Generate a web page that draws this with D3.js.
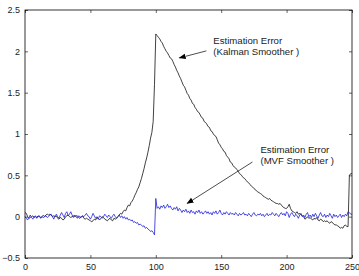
<!DOCTYPE html>
<meta charset="utf-8">
<head>
  <title>Estimation error</title>
</head>
<style>
body { margin: 0; background: #fff; }
svg { display: block; font-family: Arial, "Liberation Sans", Helvetica, sans-serif; }
</style>
<body>
<div id="content"></div>
<script src="https://cdnjs.cloudflare.com/ajax/libs/d3/7.8.5/d3.min.js"></script>
<script>

// data, one value per sample 0..250
var kalman = [
  0.05, 0.04, 0.0, -0.02, -0.01, 0.0, 0.01, -0.01, 0.0, -0.01,
  0.01, 0.0, -0.01, 0.0, -0.01, 0.0, 0.02, 0.03, 0.02, 0.03,
  0.02, 0.0, 0.01, 0.0, 0.01, -0.02, -0.03, -0.01, -0.02, -0.04,
  -0.03, 0.0, 0.01, 0.02, 0.0, -0.01, 0.0, 0.01, 0.0, 0.01,
  0.01, -0.01, -0.02, 0.0, 0.01, -0.02, -0.03, -0.02, -0.03, -0.04,
  -0.05, -0.06, -0.05, -0.03, -0.04, -0.01, -0.02, -0.04, -0.02, 0.0,
  -0.01, -0.03, -0.04, -0.05, -0.03, -0.02, -0.04, -0.05, -0.02, -0.03,
  -0.02, 0.0, 0.02, 0.04, 0.03, 0.06, 0.08, 0.07, 0.11, 0.14,
  0.13, 0.17, 0.19, 0.22, 0.26, 0.29, 0.33, 0.36, 0.41, 0.46,
  0.52, 0.58, 0.65, 0.71, 0.78, 0.86, 0.95, 1.02, 1.15, 1.6,
  2.21, 2.19, 2.17, 2.15, 2.12, 2.1, 2.06, 2.03, 2.0, 1.98,
  1.95, 1.92, 1.91, 1.88, 1.84, 1.81, 1.77, 1.74, 1.7, 1.67,
  1.63, 1.59, 1.57, 1.53, 1.49, 1.47, 1.43, 1.41, 1.37, 1.36,
  1.32, 1.3, 1.27, 1.26, 1.23, 1.2, 1.19, 1.15, 1.14, 1.12,
  1.09, 1.08, 1.04, 1.03, 1.0, 0.98, 0.97, 0.93, 0.89, 0.87,
  0.84, 0.82, 0.79, 0.78, 0.74, 0.72, 0.7, 0.66, 0.65, 0.62,
  0.6, 0.59, 0.57, 0.55, 0.52, 0.51, 0.49, 0.47, 0.46, 0.44,
  0.42, 0.41, 0.39, 0.37, 0.36, 0.34, 0.33, 0.31, 0.3, 0.29,
  0.28, 0.27, 0.25, 0.24, 0.23, 0.22, 0.21, 0.22, 0.2, 0.19,
  0.18, 0.17, 0.16, 0.16, 0.15, 0.16, 0.14, 0.12, 0.11, 0.1,
  0.1, 0.12, 0.15, 0.1, 0.07, 0.06, 0.05, 0.04, 0.06, 0.03,
  0.04, 0.02, 0.01, 0.0, -0.03, -0.02, 0.0, -0.02, -0.01, -0.03,
  -0.04, -0.02, -0.03, -0.01, -0.04, -0.05, -0.03, -0.04, -0.06, -0.05,
  -0.06, -0.05, -0.07, -0.08, -0.06, -0.07, -0.09, -0.1, -0.1, -0.11,
  -0.12, -0.14, -0.13, -0.14, -0.11, -0.1, -0.12, -0.12, 0.5, 0.52,
  0.52
];

var mvf = [
  0.0, -0.02, -0.04, -0.01, 0.02, -0.01, -0.03, 0.0, 0.01, -0.02,
  0.0, 0.01, -0.02, 0.0, 0.02, 0.0, 0.01, -0.01, 0.0, 0.02,
  0.03, 0.0, -0.03, 0.01, 0.03, 0.0, -0.02, 0.02, 0.05, 0.02,
  -0.01, 0.04, 0.06, 0.01, 0.03, 0.06, 0.02, -0.01, 0.02, 0.0,
  -0.02, 0.01, 0.0, -0.01, 0.01, 0.0, 0.02, 0.04, 0.01, 0.0,
  -0.03, 0.0, 0.04, 0.01, -0.02, 0.0, -0.03, 0.01, 0.0, -0.02,
  0.0, 0.03, 0.01, -0.01, 0.02, 0.0, -0.02, 0.01, 0.03, 0.0,
  -0.02, 0.0, 0.02, -0.01, 0.01, -0.02, 0.0, -0.03, -0.01, -0.04,
  -0.03, -0.05, -0.04, -0.07, -0.06, -0.08, -0.07, -0.1, -0.09, -0.1,
  -0.12, -0.11, -0.14, -0.13, -0.15, -0.16, -0.18, -0.17, -0.19, -0.22,
  0.22, 0.1, 0.12, 0.09, 0.13, 0.11, 0.14, 0.1, 0.12, 0.15,
  0.11, 0.13, 0.1, 0.08, 0.11, 0.09, 0.12, 0.07, 0.1, 0.08,
  0.05, 0.08, 0.06, 0.09, 0.05, 0.07, 0.04, 0.08, 0.05, 0.06,
  0.03, 0.07, 0.05, 0.08, 0.04, 0.06, 0.03, 0.05, 0.07, 0.04,
  0.06, 0.03, 0.05, 0.02, 0.06, 0.04, 0.07, 0.03, 0.05, 0.08,
  0.04, 0.02, 0.05, 0.03, 0.06, 0.04, 0.02, 0.05, 0.03, 0.04,
  0.02, 0.05, 0.03, 0.01, 0.04, 0.02, 0.03, 0.05, 0.02, 0.03,
  0.01, 0.04, 0.02, 0.0, 0.03, 0.05, 0.02, 0.01, 0.03, 0.02,
  0.04, 0.01, 0.03, 0.0, 0.02, 0.04, 0.01, 0.03, 0.02, 0.05,
  0.03, 0.01, 0.04, 0.02, 0.0, 0.03, 0.05, 0.02, 0.04, 0.01,
  0.06, 0.04, -0.01, 0.03, 0.05, 0.02, 0.0, 0.03, 0.01, -0.02,
  0.02, 0.04, 0.0, 0.02, -0.01, 0.03, 0.05, 0.0, 0.02, -0.01,
  0.03, 0.0, 0.04, 0.01, -0.02, 0.02, 0.05, 0.01, 0.0, 0.03,
  -0.01, 0.02, 0.0, 0.04, 0.01, -0.02, 0.03, 0.0, 0.02, -0.01,
  0.01, 0.03, -0.01, 0.02, 0.0, 0.03, 0.01, 0.06, 0.05, 0.03,
  0.03
];

var xTicks = [0, 50, 100, 150, 200, 250];
var yTicks = [-0.5, 0, 0.5, 1, 1.5, 2, 2.5];

// annotation texts: text anchor (data units), arrow start (px offset from text) and arrow tip (data units)
var notes = [
  {lines: ['Estimation Error', '(Kalman Smoother )'], at: [144, 2.09], tail: [-7, 7], tip: [118, 1.92]},
  {lines: ['Estimation Error', '(MVF Smoother )'], at: [180, 0.77], tail: [-8, 9], tip: [124, 0.16]}
];

var W = 359, H = 276;
var mLeft = 25, mRight = 352, mTop = 10, mBottom = 258;

var svg = d3.select('#content').append('svg')
  .attr('width', W)
  .attr('height', H);

svg.append('rect').attr('width', W).attr('height', H).attr('fill', '#fff');

var x = d3.scaleLinear().domain([0, 250]).range([mLeft, mRight]);
var y = d3.scaleLinear().domain([-0.5, 2.5]).range([mBottom, mTop]);

svg.append('defs').append('marker')
  .attr('id', 'head')
  .attr('viewBox', '0 0 10 10')
  .attr('refX', 9).attr('refY', 5)
  .attr('markerWidth', 7).attr('markerHeight', 7)
  .attr('markerUnits', 'userSpaceOnUse')
  .attr('orient', 'auto')
  .append('path')
  .attr('d', 'M0,1 L10,5 L0,9 Z')
  .attr('fill', '#000');

var line = d3.line()
  .x(function(d, i) { return x(i); })
  .y(function(d) { return y(d); });

svg.append('path')
  .datum(kalman)
  .attr('d', line)
  .attr('fill', 'none')
  .attr('stroke', '#111')
  .attr('stroke-width', 0.8);

svg.append('path')
  .datum(mvf)
  .attr('d', line)
  .attr('fill', 'none')
  .attr('stroke', '#2020e0')
  .attr('stroke-width', 0.8);

// axes, matlab style: ticks inside, box all round
var tk = 3;
var axisStyle = function(g) {
  g.select('.domain').remove();
  g.selectAll('.tick line').attr('stroke', '#000').attr('stroke-width', 0.6);
  g.selectAll('.tick text').attr('fill', '#222').style('font-size', '9px');
};

svg.append('g')
  .attr('transform', 'translate(0,' + mBottom + ')')
  .call(d3.axisBottom(x).tickValues(xTicks).tickSizeInner(-tk).tickSizeOuter(0).tickPadding(6))
  .call(axisStyle);

svg.append('g')
  .attr('transform', 'translate(0,' + mTop + ')')
  .call(d3.axisTop(x).tickValues(xTicks).tickSizeInner(-tk).tickSizeOuter(0).tickFormat(''))
  .call(axisStyle);

svg.append('g')
  .attr('transform', 'translate(' + mLeft + ',0)')
  .call(d3.axisLeft(y).tickValues(yTicks).tickSizeInner(-tk).tickSizeOuter(0).tickPadding(5).tickFormat(d3.format('')))
  .call(axisStyle);

svg.append('g')
  .attr('transform', 'translate(' + mRight + ',0)')
  .call(d3.axisRight(y).tickValues(yTicks).tickSizeInner(-tk).tickSizeOuter(0).tickFormat(''))
  .call(axisStyle);

svg.append('rect')
  .attr('x', mLeft).attr('y', mTop)
  .attr('width', mRight - mLeft).attr('height', mBottom - mTop)
  .attr('fill', 'none')
  .attr('stroke', '#000')
  .attr('stroke-width', 0.8);

// annotations
notes.forEach(function(n) {
  var tx = x(n.at[0]), ty = y(n.at[1]);
  var t = svg.append('text')
    .attr('x', tx)
    .attr('y', ty)
    .attr('fill', '#222')
    .style('font-size', '9.6px');
  n.lines.forEach(function(s, i) {
    t.append('tspan').attr('x', tx).attr('dy', i ? 11 : 0).text(s);
  });
  svg.append('line')
    .attr('x1', tx + n.tail[0]).attr('y1', ty + n.tail[1])
    .attr('x2', x(n.tip[0])).attr('y2', y(n.tip[1]))
    .attr('stroke', '#000').attr('stroke-width', 0.7)
    .attr('marker-end', 'url(#head)');
});

</script>
</body>
</html>
